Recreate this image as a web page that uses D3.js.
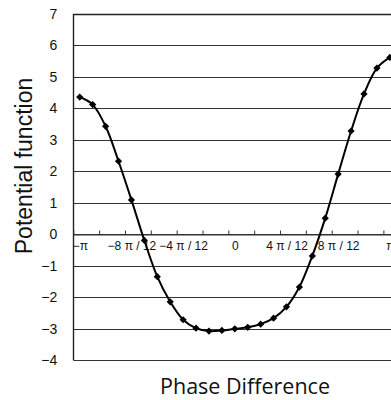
<!DOCTYPE html>
<html>
<head>
<meta charset="utf-8">
<script src="https://cdn.jsdelivr.net/npm/d3@7"></script>
<style>
  body { margin: 0; background: #fff; }
  svg { display: block; }
</style>
</head>
<body>
<div id="chart"></div>
<script>
// phase difference in steps of pi/12, from -pi to pi
var phaseSteps = [-12, -11, -10, -9, -8, -7, -6, -5, -4, -3, -2, -1, 0,
                  1, 2, 3, 4, 5, 6, 7, 8, 9, 10, 11, 12];
var potential = [4.36, 4.12, 3.43, 2.32, 1.09, -0.2, -1.35, -2.15, -2.72, -2.99,
                 -3.08, -3.06, -3.01, -2.96, -2.86, -2.67, -2.31, -1.68, -0.69, 0.51,
                 1.91, 3.28, 4.46, 5.28, 5.62];
var xLabelSteps = [-12, -8, -4, 0, 4, 8, 12];
var xLabels = ["\u2212\u03c0", "\u22128 \u03c0 / 12", "\u22124 \u03c0 / 12", "0",
               "4 \u03c0 / 12", "8 \u03c0 / 12", "\u03c0"];
var yTicks = [-4, -3, -2, -1, 0, 1, 2, 3, 4, 5, 6, 7];

var width = 391, height = 400;
var svg = d3.select("#chart").append("svg")
  .attr("width", width)
  .attr("height", height);

// category axis, each step gets one slot, point in the middle of it
var x = d3.scaleLinear().domain([-12.5, 12.5]).range([73.3, 396.3]);
var y = d3.scaleLinear().domain([-4, 7]).range([360, 14]);

// horizontal grid
svg.append("g")
  .selectAll("line")
  .data(yTicks)
  .enter().append("line")
  .attr("x1", x(-12.5))
  .attr("x2", width)
  .attr("y1", function (d) { return Math.round(y(d)) + 0.5; })
  .attr("y2", function (d) { return Math.round(y(d)) + 0.5; })
  .attr("stroke", function (d) { return d === 7 ? "#222" : "#333"; })
  .attr("stroke-width", function (d) { return d === 7 ? 1.6 : 1; });

// left axis line
svg.append("line")
  .attr("x1", Math.round(x(-12.5)) + 0.5)
  .attr("x2", Math.round(x(-12.5)) + 0.5)
  .attr("y1", y(7))
  .attr("y2", y(-4))
  .attr("stroke", "#222")
  .attr("stroke-width", 1.4);

// y tick labels
var yAxis = svg.append("g")
  .attr("transform", "translate(" + x(-12.5) + ",0)")
  .call(d3.axisLeft(y).tickValues(yTicks).tickSize(0).tickPadding(16)
    .tickFormat(function (d) { return d < 0 ? "\u2212" + Math.abs(d) : d; }));
yAxis.select(".domain").remove();
yAxis.selectAll("text")
  .attr("font-family", "'Liberation Sans', Arial, sans-serif")
  .attr("font-size", 14)
  .attr("fill", "#111");

// x axis at zero: small tick marks between categories, pointing up
var tickSteps = [];
for (var i = -12.5; i <= 12.5; i += 2) tickSteps.push(i);
var xTicks = svg.append("g")
  .attr("transform", "translate(0," + (Math.round(y(0)) + 0.5) + ")")
  .call(d3.axisTop(x).tickValues(tickSteps).tickSizeInner(4).tickSizeOuter(0).tickFormat(""));
xTicks.select(".domain").attr("stroke", "#333");
xTicks.selectAll(".tick line").attr("stroke", "#333");

var xAxis = svg.append("g")
  .attr("transform", "translate(0," + y(0) + ")")
  .call(d3.axisBottom(x).tickValues(xLabelSteps).tickSize(0).tickPadding(7)
    .tickFormat(function (d, i) { return xLabels[i]; }));
xAxis.select(".domain").remove();
xAxis.selectAll("text")
  .attr("font-family", "'Liberation Sans', Arial, sans-serif")
  .attr("font-size", 12)
  .attr("fill", "#111");

// curve
var pts = phaseSteps.map(function (s, i) { return [s, potential[i]]; });
var line = d3.line()
  .x(function (d) { return x(d[0]); })
  .y(function (d) { return y(d[1]); })
  .curve(d3.curveCatmullRom);

svg.append("path")
  .datum(pts)
  .attr("d", line)
  .attr("fill", "none")
  .attr("stroke", "#000")
  .attr("stroke-width", 2);

svg.append("g")
  .selectAll("path")
  .data(pts)
  .enter().append("path")
  .attr("d", d3.symbol().type(d3.symbolSquare).size(26))
  .attr("transform", function (d) {
    return "translate(" + x(d[0]) + "," + y(d[1]) + ") rotate(45)";
  })
  .attr("fill", "#000");

// titles
svg.append("text")
  .attr("transform", "translate(32,166) rotate(-90)")
  .attr("text-anchor", "middle")
  .attr("font-family", "'Liberation Sans', Arial, sans-serif")
  .attr("font-size", 23)
  .attr("fill", "#111")
  .text("Potential function");

svg.append("text")
  .attr("x", 245)
  .attr("y", 394)
  .attr("text-anchor", "middle")
  .attr("font-family", "'Open Sans', sans-serif")
  .attr("font-size", 21.5)
  .attr("fill", "#111")
  .text("Phase Difference");
</script>
</body>
</html>
